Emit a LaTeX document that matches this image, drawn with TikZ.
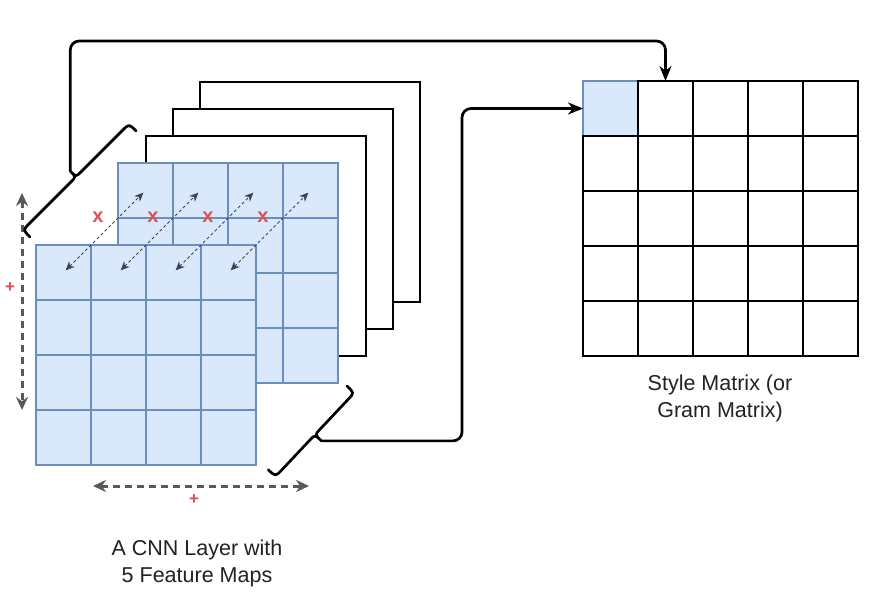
\documentclass[tikz,border=0pt]{standalone}
\usepackage{fontspec}
\setmainfont{Liberation Sans}
\usetikzlibrary{arrows.meta,calc}
\definecolor{bfill}{HTML}{DAE8FC}
\definecolor{bline}{HTML}{6C8EBF}
\definecolor{gdash}{HTML}{595959}
\definecolor{dgray}{HTML}{3D4650}
\definecolor{rmark}{HTML}{E05050}
\definecolor{txt}{HTML}{222222}
\begin{document}
\begin{tikzpicture}[x=1pt,y=-1pt,
  cell/.style={rectangle,draw=bline,fill=bfill,line width=2.6pt,minimum size=55pt,inner sep=0pt,outer sep=0pt},
  mcell/.style={rectangle,draw=black,fill=white,line width=2.7pt,minimum size=55pt,inner sep=0pt,outer sep=0pt},
  fmap/.style={rectangle,draw=black,fill=white,line width=2.5pt,minimum size=220pt,inner sep=0pt,outer sep=0pt},
  conn/.style={draw=black,line width=2.7pt,rounded corners=9pt},
  arr/.style={-{Stealth[length=15pt,width=12pt]}},
  brc/.style={draw=black,line width=2.7pt,line cap=round,line join=round},
  gdarrow/.style={gdash,line width=3pt,dash pattern=on 7pt off 5pt,{Stealth[length=13pt,width=12pt]}-{Stealth[length=13pt,width=12pt]}},
  diag/.style={dgray,line width=0.9pt,dash pattern=on 3pt off 2.5pt,{Stealth[length=9pt,width=8pt]}-{Stealth[length=9pt,width=8pt]},shorten <=3pt,shorten >=3pt},
  redmark/.style={text=rmark,font=\fontsize{20}{20}\selectfont\bfseries,inner sep=0pt},
  redplus/.style={text=rmark,font=\fontsize{17}{17}\selectfont\bfseries,inner sep=0pt},
  lbl/.style={align=center,text=txt,font=\fontsize{21.5}{27}\selectfont,inner sep=0pt}]
\useasboundingbox (0,0) rectangle (874,600);
\fill[white] (0,0) rectangle (874,600);

% feature maps behind
\node[fmap,anchor=north west] (fm5) at (200,82) {};
\node[fmap,anchor=north west] (fm4) at (173,109) {};
\node[fmap,anchor=north west] (fm3) at (146,136) {};

% back blue grid
\foreach \i in {1,...,4}{
  \foreach \j in {1,...,4}{
    \node[cell] (b-\i-\j) at ({118+27.5+55*(\j-1)},{163+27.5+55*(\i-1)}) {};
  }
}
% front blue grid
\foreach \i in {1,...,4}{
  \foreach \j in {1,...,4}{
    \node[cell] (f-\i-\j) at ({36+27.5+55*(\j-1)},{245+27.5+55*(\i-1)}) {};
  }
}

% diagonal arrows and red marks
\foreach \j in {1,...,4}{
  \draw[diag] (f-1-\j.center) -- (b-1-\j.center);
  \node[redmark] (x\j) at ({98+55*(\j-1)},217) {x};
}

% dashed gray arrows
\coordinate (va) at (22,193);
\coordinate (vb) at (22,410);
\draw[gdarrow] (va) -- (vb);
\node[redplus] (p1) at (10,288) {+};
\coordinate (ha) at (93,486);
\coordinate (hb) at (309,486);
\draw[gdarrow] (ha) -- (hb);
\node[redplus] (p2) at (194,500) {+};

% style matrix
\node[cell] (m-1-1) at ({583+27.5},{81+27.5}) {};
\foreach \i in {1,...,5}{
  \foreach \j in {1,...,5}{
    \ifnum\i\j=11\else
    \node[mcell] (m-\i-\j) at ({583+27.5+55*(\j-1)},{81+27.5+55*(\i-1)}) {};
    \fi
  }
}
\draw[black,line width=2.7pt] (m-1-1.north east) -- (m-1-1.south east) -- (m-1-1.south west);

% braces
\begin{scope}[shift={(30,237)},x={(0.7071pt,0.7071pt)},y={(-0.7071pt,0.7071pt)}]
  \draw[brc] (0,0) .. controls (0,10) .. (9,10) -- (68,10)
    .. controls (75,10) .. (75,18) .. controls (75,10) .. (82,10)
    -- (141,10) .. controls (150,10) .. (150,0);
  \coordinate (t1) at (75,18);
\end{scope}
\begin{scope}[shift={(347,386)},x={(-0.685pt,-0.728pt)},y={(0.728pt,-0.685pt)}]
  \draw[brc] (0,0) .. controls (0,10) .. (9,10) -- (50.5,10)
    .. controls (57.5,10) .. (57.5,19) .. controls (57.5,10) .. (64.5,10)
    -- (106,10) .. controls (115,10) .. (115,0);
  \coordinate (t2) at (57.5,19);
\end{scope}

% connectors
\coordinate (c1) at (665.5,41);
\draw[conn,arr] (t1) |- (c1) -- (m-1-2.north);
\coordinate (c2) at (462,108.5);
\draw[conn,arr] (t2) -| (c2) -- (m-1-1.west);

% labels
\node[lbl] (cnnlbl) at (197,563) {A CNN Layer with\\5 Feature Maps};
\node[lbl] (smlbl) at (720,398) {Style Matrix (or\\Gram Matrix)};
\end{tikzpicture}
\end{document}
